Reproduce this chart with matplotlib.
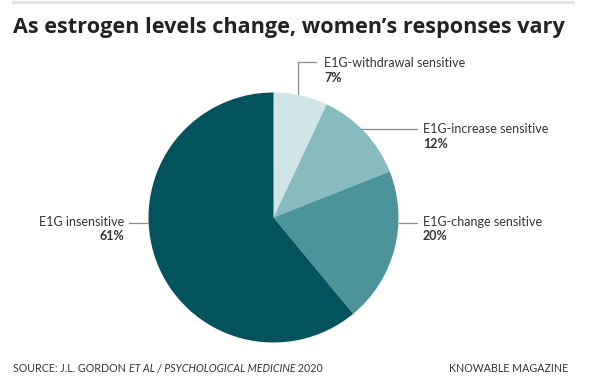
import matplotlib
matplotlib.use("Agg")
import matplotlib.pyplot as plt
from matplotlib.lines import Line2D

# Data
categories = ["E1G-withdrawal sensitive", "E1G-increase sensitive",
              "E1G-change sensitive", "E1G insensitive"]
values = [7, 12, 20, 61]
colors = ["#cfe5e7", "#86bbc0", "#4c939b", "#03535f"]

title = "As estrogen levels change, women\u2019s responses vary"
source_parts = [("SOURCE: J.L. GORDON ", "normal"),
                ("ET AL / PSYCHOLOGICAL MEDICINE", "italic"),
                (" 2020", "normal")]
credit = "KNOWABLE MAGAZINE"
W, H = 600, 376

fig = plt.figure(figsize=(6.0, 3.76), dpi=100)
fig.patch.set_facecolor("white")
ax = fig.add_axes([0, 0, 1, 1])

def Y(py):
    return H - py

ax.pie(values, colors=colors, startangle=90, counterclock=False,
       center=(273.5, Y(217.5)), radius=125,
       wedgeprops=dict(linewidth=0))
ax.set_xlim(0, W)
ax.set_ylim(0, H)
ax.set_aspect("equal", adjustable="datalim")
ax.axis("off")

FONT = "Lato"
TXT = "#333333"
LINE = "#8a8a8a"

fig.canvas.draw()
r = fig.canvas.get_renderer()

def width(t):
    return t.get_window_extent(r).width

# top rule
ax.add_line(Line2D([13, 573], [Y(2), Y(2)], color="#dde7eb", lw=2.2))

# title fitted to width
t = ax.text(13, Y(33), title, fontsize=15, fontweight="bold", family="Open Sans",
            color="#222222", va="baseline", ha="left")
t.set_fontsize(15 * 550 / width(t))

# label positions (layout)
label_pos = [(324, 63, "left"), (423, 129, "left"), (423, 222, "left"), (124, 222, "right")]
leaders = [([298, 298, 316], [94, 62, 62]),
           ([362, 417], [129, 129]),
           ([399, 417], [223, 223]),
           ([129, 148], [223, 223])]

for cat, v, (x, y, ha), (lx, ly) in zip(categories, values, label_pos, leaders):
    ax.text(x, Y(y), cat, fontsize=9, family=FONT, color=TXT, ha=ha, va="center")
    ax.text(x, Y(y + 14.5), f"{v}%", fontsize=9, family=FONT, fontweight="bold",
            color=TXT, ha=ha, va="center")
    ax.add_line(Line2D(lx, [Y(q) for q in ly], color=LINE, lw=0.9))

# footer
FS = 7.7
x = 13
for s, st in source_parts:
    tt = ax.text(x, Y(372), s, fontsize=FS, family=FONT, style=st, color=TXT,
                 ha="left", va="baseline")
    x = tt.get_window_extent(r).x1
ax.text(568, Y(372), credit, fontsize=FS, family=FONT, color=TXT,
        ha="right", va="baseline")

fig.savefig("out.png", dpi=100, facecolor="white")
